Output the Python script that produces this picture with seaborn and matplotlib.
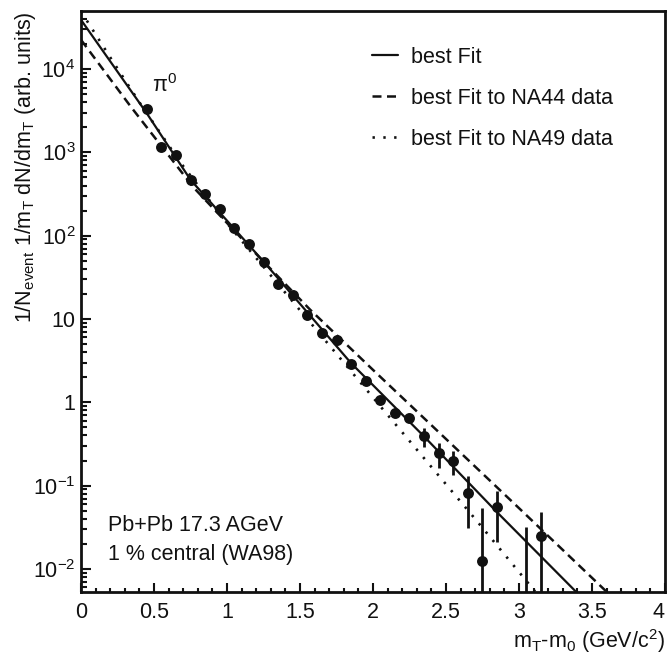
import numpy as np
import pandas as pd
import matplotlib
matplotlib.use("Agg")
import matplotlib.pyplot as plt
import seaborn as sns
from matplotlib.ticker import FixedLocator, MultipleLocator, LogLocator, NullFormatter

# ---------------- data ----------------
# WA98 pi0 data points
data_x = [0.45, 0.55, 0.65, 0.75, 0.85, 0.95, 1.05, 1.15, 1.25, 1.35, 1.45, 1.55,
          1.65, 1.75, 1.85, 1.95, 2.05, 2.15, 2.25, 2.35, 2.45, 2.55, 2.65, 2.75,
          2.85, 3.05, 3.15]
data_y = [3310, 1160, 930, 465, 316, 208, 123, 79, 48, 26, 19.4, 11.1,
          6.8, 5.6, 2.9, 1.8, 1.06, 0.74, 0.65, 0.39, 0.245, 0.197, 0.081, 0.0124,
          0.055, 0.002, 0.0248]
data_lo = [3310, 1160, 930, 465, 316, 208, 123, 79, 48, 26, 19.4, 11.1,
           6.8, 5.6, 2.9, 1.7, 0.98, 0.68, 0.60, 0.29, 0.162, 0.134, 0.031, 0.0001,
           0.021, 0.0001, 0.0001]
data_hi = [3310, 1160, 930, 465, 316, 208, 123, 79, 48, 26, 19.4, 11.1,
           6.8, 5.6, 2.9, 1.9, 1.15, 0.80, 0.70, 0.49, 0.324, 0.259, 0.130, 0.054,
           0.086, 0.032, 0.048]

# fit curves
best_x = [0.0, 0.45, 0.75, 1.25, 1.85, 2.35, 2.85, 3.40]
best_y = [38900, 2950, 468, 49.0, 2.95, 0.389, 0.0479, 0.00513]

na44_x = [0.0, 0.34, 0.77, 1.2, 1.57, 2.0, 2.5, 3.0, 3.61]
na44_y = [22400, 3550, 380, 60.3, 12.9, 2.45, 0.363, 0.0537, 0.00513]

na49_x = [0.0, 0.2, 0.4, 0.68, 1.0, 1.47, 2.09, 2.7, 3.11]
na49_y = [49000, 13800, 3980, 759, 141, 14.7, 0.741, 0.0398, 0.00537]

legend_labels = ["best Fit", "best Fit to NA44 data", "best Fit to NA49 data"]
ytick_vals = [1e-2, 1e-1, 1, 10, 1e2, 1e3, 1e4]
ytick_labels = ["$10^{-2}$", "$10^{-1}$", "1", "10", "$10^{2}$", "$10^{3}$", "$10^{4}$"]
xtick_vals = [0, 0.5, 1, 1.5, 2, 2.5, 3, 3.5, 4]
xtick_labels = ["0", "0.5", "1", "1.5", "2", "2.5", "3", "3.5", "4"]

# ---------------- style ----------------
sns.set_style("ticks")
plt.rcParams["font.family"] = ["Liberation Sans", "DejaVu Sans"]
plt.rcParams["mathtext.fontset"] = "custom"
plt.rcParams["mathtext.rm"] = "Liberation Sans"
plt.rcParams["mathtext.it"] = "Liberation Sans:italic"
plt.rcParams["mathtext.default"] = "regular"

FS = 15.5
INK = "#111111"

fig = plt.figure(figsize=(6.69, 6.56), dpi=100)
ax = fig.add_axes([0.1211, 0.0976, 0.8729, 0.8856])

df_best = pd.DataFrame({"x": best_x, "y": best_y})
df_44 = pd.DataFrame({"x": na44_x, "y": na44_y})
df_49 = pd.DataFrame({"x": na49_x, "y": na49_y})
df_data = pd.DataFrame({"x": data_x, "y": data_y})

sns.lineplot(data=df_best, x="x", y="y", ax=ax, color=INK, lw=1.6,
             label=legend_labels[0], sort=False, estimator=None)
sns.lineplot(data=df_44, x="x", y="y", ax=ax, color=INK, lw=1.8,
             linestyle=(0, (3.6, 2.2)), label=legend_labels[1], sort=False, estimator=None)
sns.lineplot(data=df_49, x="x", y="y", ax=ax, color=INK, lw=1.9,
             linestyle=(0, (0.9, 3.2)), label=legend_labels[2], sort=False, estimator=None)

y_arr = np.array(data_y)
yerr = [y_arr - np.array(data_lo), np.array(data_hi) - y_arr]
ax.errorbar(data_x, data_y, yerr=yerr, fmt="none", ecolor=INK, elinewidth=2.0, capsize=0)
sns.scatterplot(data=df_data, x="x", y="y", ax=ax, color=INK, s=62, edgecolor=INK,
                linewidth=0, legend=False, zorder=5)

ax.set_yscale("log")
ax.set_xlim(0, 4)
ax.set_ylim(10 ** -2.276, 10 ** 4.696)

ax.yaxis.set_major_locator(FixedLocator(ytick_vals))
ax.set_yticklabels(ytick_labels)
ax.yaxis.set_minor_locator(LogLocator(base=10, subs=np.arange(2, 10), numticks=20))
ax.yaxis.set_minor_formatter(NullFormatter())
ax.set_xticks(xtick_vals)
ax.set_xticklabels(xtick_labels)
ax.xaxis.set_minor_locator(MultipleLocator(0.1))
# keep the last x label inside the figure, as in the reference
ax.get_xticklabels()[-1].set_horizontalalignment("right")

ax.tick_params(axis="both", which="both", direction="in", color=INK, labelcolor=INK,
               labelsize=FS, top=False, right=False)
ax.tick_params(axis="x", which="major", length=6.5, width=1.5, pad=7)
ax.tick_params(axis="x", which="minor", length=3.0, width=1.5)
ax.tick_params(axis="y", which="major", length=7.5, width=1.5, pad=4)
ax.tick_params(axis="y", which="minor", length=4.0, width=1.5)

for sp in ax.spines.values():
    sp.set_visible(True)
    sp.set_linewidth(2.0)
    sp.set_color(INK)

ax.set_xlabel("m$_{T}$-m$_{0}$ (GeV/c$^{2}$)", fontsize=FS, loc="right", color=INK)
ax.xaxis.set_label_coords(1.0, -0.061)
ax.set_ylabel("1/N$_{event}$ 1/m$_{T}$ dN/dm$_{T}$ (arb. units)", fontsize=FS,
              loc="top", color=INK)
ax.yaxis.set_label_coords(-0.073, 1.0)

ax.text(0.486, 10 ** 3.724, "$\\pi^{0}$", fontsize=FS, color=INK,
        ha="left", va="baseline")
ax.text(0.046, 0.114, "Pb+Pb 17.3 AGeV", transform=ax.transAxes, fontsize=FS,
        color=INK, ha="left", va="center")
ax.text(0.046, 0.065, "1 % central (WA98)", transform=ax.transAxes, fontsize=FS,
        color=INK, ha="left", va="center")

leg = ax.legend(loc="upper left", bbox_to_anchor=(372 / 669, 1 - 47 / 656),
                bbox_transform=fig.transFigure, frameon=False, fontsize=FS,
                handlelength=1.2, handletextpad=0.6, labelspacing=0.92,
                borderpad=0, borderaxespad=0)
for t in leg.get_texts():
    t.set_color(INK)

ax.set_facecolor("white")
fig.patch.set_facecolor("white")
fig.savefig("out.png", dpi=100)
